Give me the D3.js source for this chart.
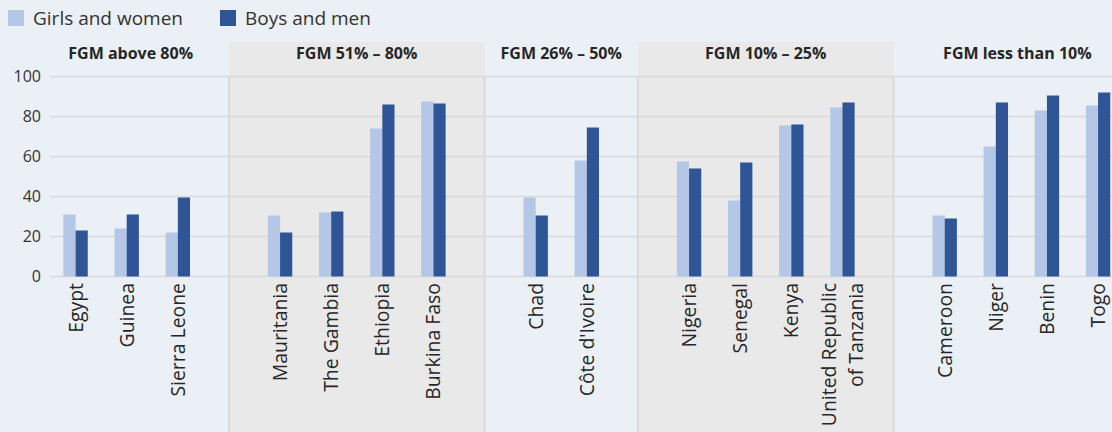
<!DOCTYPE html>
<html>
<head>
<meta charset="utf-8">
<script src="https://cdn.jsdelivr.net/npm/d3@7"></script>
<style>
  body { margin: 0; background: #eaf0f5; }
  svg { display: block; font-family: "Open Sans", "Noto Sans", sans-serif; }
</style>
</head>
<body>
<svg width="1112" height="432"></svg>
<script>
const width = 1112;
const height = 432;

const groups = ["FGM above 80%", "FGM 51% – 80%", "FGM 26% – 50%", "FGM 10% – 25%", "FGM less than 10%"];
const countries = ["Egypt", "Guinea", "Sierra Leone",
  "Mauritania", "The Gambia", "Ethiopia", "Burkina Faso",
  "Chad", "Côte d'Ivoire",
  "Nigeria", "Senegal", "Kenya", "United Republic\nof Tanzania",
  "Cameroon", "Niger", "Benin", "Togo"];
const countryGroup = [0, 0, 0, 1, 1, 1, 1, 2, 2, 3, 3, 3, 3, 4, 4, 4, 4];
const girls = [31, 24, 22, 30.5, 32, 74, 87.5, 39.5, 58, 57.5, 38, 75.5, 84.5, 30.5, 65, 83, 85.5];
const boys = [23, 31, 39.5, 22, 32.5, 86, 86.5, 30.5, 74.5, 54, 57, 76, 87, 29, 87, 90.5, 92];
const yTicks = [0, 20, 40, 60, 80, 100];
const seriesNames = ["Girls and women", "Boys and men"];
const colors = ["#b4c7e7", "#2f5597"];

const svg = d3.select("svg");

// one slot per country, plus an empty slot where the groups meet
let slots = [];
countries.forEach((c, i) => {
    if (i > 0 && countryGroup[i] != countryGroup[i - 1]) slots.push("sep" + countryGroup[i]);
    slots.push(c);
});

const step = 51.125;
const x = d3.scaleBand()
    .domain(slots)
    .range([50, 50 + slots.length * step]);

const y = d3.scaleLinear()
    .domain([0, 100])
    .range([276.5, 76.5]);

const pairWidth = x.bandwidth() * 0.477;
const x1 = d3.scaleBand()
    .domain([0, 1])
    .range([0, pairWidth]);

function center(key) {
    return x(key) + x.bandwidth() / 2;
}

// group edges (centre of the empty slots)
const edges = [x.range()[0] - x.bandwidth() / 2];
groups.forEach((g, i) => {
    if (i > 0) edges.push(center("sep" + i));
});
edges.push(x.range()[1] + x.bandwidth() / 2);

// grey panels for every second group
svg.selectAll(".panel")
    .data(groups.filter((g, i) => i % 2 == 1))
    .enter().append("rect")
    .attr("class", "panel")
    .attr("x", d => edges[groups.indexOf(d)])
    .attr("y", 42)
    .attr("width", d => edges[groups.indexOf(d) + 1] - edges[groups.indexOf(d)])
    .attr("height", height - 42)
    .attr("fill", "#e9e9e9");

// grid
svg.selectAll(".grid")
    .data(yTicks)
    .enter().append("line")
    .attr("class", "grid")
    .attr("x1", 50)
    .attr("x2", width)
    .attr("y1", d => y(d))
    .attr("y2", d => y(d))
    .attr("stroke", "#d9d9d9")
    .attr("stroke-width", 1.5);

// separators
svg.selectAll(".sep")
    .data(edges.slice(1, -1))
    .enter().append("line")
    .attr("class", "sep")
    .attr("x1", d => d)
    .attr("x2", d => d)
    .attr("y1", y(100))
    .attr("y2", height)
    .attr("stroke", "#d9d9d9")
    .attr("stroke-width", 2);

// group headers
svg.selectAll(".header")
    .data(groups)
    .enter().append("text")
    .attr("class", "header")
    .attr("x", (d, i) => (edges[i] + edges[i + 1]) / 2 + (i == 0 ? 4 : 0) - (i == groups.length - 1 ? 4 : 0))
    .attr("y", 59)
    .attr("text-anchor", "middle")
    .attr("font-size", 16)
    .attr("font-weight", "bold")
    .attr("fill", "#262626")
    .text(d => d);

// bars
const bars = svg.selectAll(".country")
    .data(countries)
    .enter().append("g")
    .attr("class", "country")
    .attr("transform", d => "translate(" + (center(d) - pairWidth / 2) + ",0)");

bars.selectAll("rect")
    .data((d, i) => [girls[i], boys[i]])
    .enter().append("rect")
    .attr("x", (d, j) => x1(j))
    .attr("width", x1.bandwidth())
    .attr("y", d => y(d))
    .attr("height", d => y(0) - y(d))
    .attr("fill", (d, j) => colors[j]);

// y axis
const yAxis = svg.append("g")
    .attr("transform", "translate(50,0)")
    .call(d3.axisLeft(y).tickValues(yTicks).tickSize(0).tickPadding(9));
yAxis.select(".domain").remove();
yAxis.selectAll("text")
    .attr("font-size", 16)
    .attr("font-family", "Open Sans, Noto Sans, sans-serif")
    .attr("fill", "#333");

// country labels
const labels = svg.selectAll(".label")
    .data(countries)
    .enter().append("text")
    .attr("class", "label")
    .attr("transform", d => "translate(" + (center(d) + 7) + ",283) rotate(-90)")
    .attr("text-anchor", "end")
    .attr("font-size", 19.4)
    .attr("fill", "#262626");

labels.each(function(d) {
    const lines = d.split("\n");
    d3.select(this).selectAll("tspan")
        .data(lines)
        .enter().append("tspan")
        .attr("x", 0)
        .attr("y", (l, k) => (k - (lines.length - 1) / 2) * 26.6)
        .text(l => l);
});

// legend
const legend = svg.selectAll(".legend")
    .data(seriesNames)
    .enter().append("g")
    .attr("class", "legend")
    .attr("transform", (d, i) => "translate(" + (8 + i * 212) + ",10)");

legend.append("rect")
    .attr("width", 16)
    .attr("height", 16)
    .attr("fill", (d, i) => colors[i]);

legend.append("text")
    .attr("x", 25)
    .attr("y", 15)
    .attr("font-size", 19)
    .attr("fill", "#333")
    .text(d => d);
</script>
</body>
</html>
